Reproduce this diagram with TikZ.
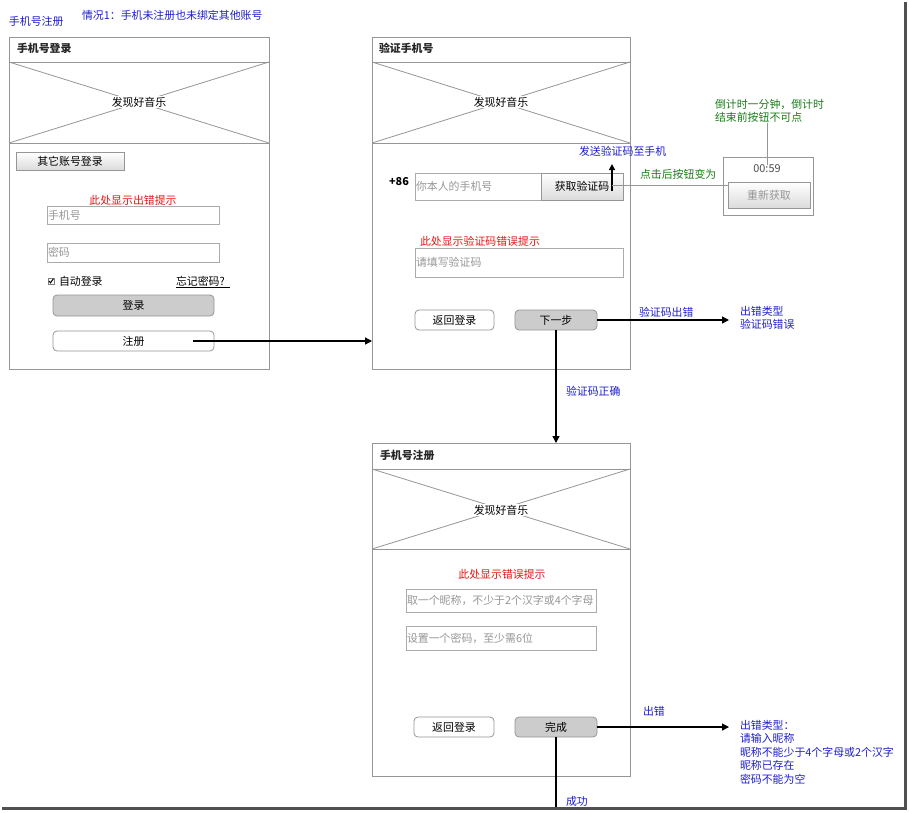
\documentclass[tikz,border=0pt]{standalone}
\usepackage{fontspec}
\setmainfont{Noto Sans CJK SC}
\usetikzlibrary{arrows.meta,calc}
\definecolor{lblue}{RGB}{30,30,205}
\definecolor{lred}{RGB}{235,20,20}
\definecolor{lgreen}{RGB}{25,125,25}
\definecolor{phgray}{RGB}{150,150,150}
\definecolor{bord}{RGB}{150,150,150}
\definecolor{frame}{RGB}{80,80,80}
\newcommand{\fs}{\fontsize{10.9}{13.5}\selectfont}
\tikzset{
  panel/.style={draw=bord, line width=0.8pt, anchor=north west, inner sep=0, outer sep=0},
  field/.style={draw=bord!80, line width=0.7pt, fill=white, anchor=north west, inner sep=0, outer sep=0},
  gbtn/.style={draw=bord, line width=0.7pt, top color=white, bottom color=gray!28, anchor=north west, inner sep=0, outer sep=0, font=\fs},
  wbtn/.style={draw=bord, line width=0.8pt, fill=white, rounded corners=4pt, anchor=north west, inner sep=0, outer sep=0, font=\fs},
  dbtn/.style={draw=bord, line width=0.8pt, fill=gray!40, rounded corners=4pt, anchor=north west, inner sep=0, outer sep=0, font=\fs},
  txt/.style={anchor=west, inner sep=0, outer sep=0, font=\fs},
  ttl/.style={txt, font=\fs\bfseries, text=black!85},
  ph/.style={txt, text=phgray},
  bl/.style={txt, text=lblue},
  rd/.style={txt, text=lred},
  gr/.style={txt, text=lgreen},
  img/.style={fill=white, inner sep=1pt, font=\fs},
  arr/.style={line width=1.3pt, -{Triangle[length=7pt,width=7pt]}},
  cross/.style={draw=bord, line width=0.8pt},
  thin/.style={draw=bord, line width=0.7pt},
}
\begin{document}
\begin{tikzpicture}[x=1pt,y=-1pt]
\useasboundingbox (0,0) rectangle (909,812);
\fill[white] (0,0) rectangle (909,812);
% frame shadow
\draw[frame, line width=3pt] (905,2) -- (905,808) -- (2,808);

% top labels
\node[bl] (lbl1) at (9,21) {手机号注册};
\node[bl] (lbl2) at (82,15) {情况1：手机未注册也未绑定其他账号};

%================ panel 1
\node[panel, minimum width=260pt, minimum height=332pt] (p1) at (9,37) {};
\node[ttl] (p1t) at (17,48) {手机号登录};
\draw[cross] (9,62) -- (269,62) (9,143) -- (269,143);
\draw[cross] (9,62) -- (269,143) (9,143) -- (269,62);
\node[img] (p1i) at (139,102) {发现好音乐};
\node[gbtn, minimum width=108pt, minimum height=18pt] (oth) at (16,152) {其它账号登录};
\node[txt, text=lred, anchor=center] (p1e) at (133,200) {此处显示出错提示};
\node[field, minimum width=172pt, minimum height=18pt] (f1) at (47,206) {};
\node[ph] (f1t) at ([xshift=1pt]f1.west) {手机号};
\node[field, minimum width=172pt, minimum height=19pt] (f2) at (47,243) {};
\node[ph] (f2t) at ([xshift=1pt]f2.west) {密码};
\node[draw=gray, fill=white, minimum size=6pt, inner sep=0, line width=0.5pt] (chk) at (51,281) {};
\draw[line width=1pt] ([shift={(-2,0)}]chk.center) -- ([shift={(-0.5,1.8)}]chk.center) -- ([shift={(2.4,-2.2)}]chk.center);
\node[txt] (auto) at (59,281) {自动登录};
\node[txt] (fgt) at (176,281) {忘记密码?};
\draw[line width=0.6pt] (fgt.west |- 0,287) -- ++(54,0);
\node[dbtn, minimum width=161pt, minimum height=21pt] (login) at (53,295) {登录};
\node[wbtn, minimum width=161pt, minimum height=20pt] (reg) at (53,331) {注册};

%================ panel 2
\node[panel, minimum width=258pt, minimum height=332pt] (p2) at (372,37) {};
\node[ttl] (p2t) at (379,48) {验证手机号};
\draw[cross] (372,62) -- (630,62) (372,143) -- (630,143);
\draw[cross] (372,62) -- (630,143) (372,143) -- (630,62);
\node[img] (p2i) at (501,102) {发现好音乐};
\node[txt, font=\fs\bfseries] (cc) at (389,182) {+86};
\node[field, minimum width=126pt, minimum height=27pt] (ph1) at (415,173) {};
\node[ph] (ph1t) at ([xshift=1pt]ph1.west) {你本人的手机号};
\node[gbtn, minimum width=82pt, minimum height=27pt] (gc) at (541,173) {获取验证码};
\node[rd] (p2e) at (420,241) {此处显示验证码错误提示};
\node[field, minimum width=208pt, minimum height=29pt] (vc) at (415,248) {};
\node[ph] (vct) at ([xshift=1pt]vc.west) {请填写验证码};
\node[wbtn, minimum width=79pt, minimum height=20pt] (back2) at (415,310) {返回登录};
\node[dbtn, minimum width=82pt, minimum height=20pt] (nb) at (515,310) {下一步};

% send code
\node[bl] (send) at (579,151) {发送验证码至手机};
\coordinate (a1) at (612,191);
\coordinate (a2) at (612,164);
\draw[line width=1.3pt, -{Triangle[length=6pt,width=6pt]}] (a1) -- (a2);
% timer box
\node[panel, minimum width=90pt, minimum height=58pt, line width=0.7pt] (tb) at (723,157) {};
\node[txt, anchor=center, text=black!70] (tm) at (767,169) {00:59};
\node[gbtn, minimum width=82pt, minimum height=26pt, text=phgray] (rg) at (728,182) {重新获取};
\coordinate (g1) at (612,185);
\draw[thin] (g1) -- (g1 -| rg.west);
\node[gr] (clk) at (640,174) {点击后按钮变为};
\node[gr, align=left, anchor=north west] (cd) at (715,99) {倒计时一分钟，倒计时\\结束前按钮不可点};
\draw[thin] (cd.south -| tm.north) -- (tm.north);

% next step arrows
\coordinate (e1) at (729,320);
\draw[arr] (nb.east) -- (e1);
\node[bl] (vcerr) at (639,312) {验证码出错};
\node[bl, align=left, anchor=north west] (et1) at (740,306) {出错类型\\验证码错误};
\draw[arr] (nb.south) -- (nb.south |- 0,443);
\node[bl] (vcok) at (566,391) {验证码正确};

% register arrow
\coordinate (s1) at (193,341);
\draw[arr] (s1) -- (s1 -| p2.west);

%================ panel 3
\node[panel, minimum width=258pt, minimum height=333pt] (p3) at (372,443) {};
\node[ttl] (p3t) at (380,455) {手机号注册};
\draw[cross] (372,469) -- (630,469) (372,549) -- (630,549);
\draw[cross] (372,469) -- (630,549) (372,549) -- (630,469);
\node[img] (p3i) at (501,510) {发现好音乐};
\node[txt, text=lred, anchor=center] (p3e) at (502,574) {此处显示错误提示};
\node[field, minimum width=190pt, minimum height=23pt] (nk) at (406,589) {};
\node[ph] (nkt) at ([xshift=1pt]nk.west) {取一个昵称，不少于2个汉字或4个字母};
\node[field, minimum width=190pt, minimum height=24pt] (pw) at (406,626) {};
\node[ph] (pwt) at ([xshift=1pt]pw.west) {设置一个密码，至少需6位};
\node[wbtn, minimum width=80pt, minimum height=20pt] (back3) at (414,717) {返回登录};
\node[dbtn, minimum width=82pt, minimum height=20pt] (done) at (515,717) {完成};

\coordinate (e2) at (729,727);
\draw[arr] (done.east) -- (e2);
\node[bl] (err) at (643,711) {出错};
\node[bl, align=left, anchor=north west] (et2) at (740,720) {出错类型：\\请输入昵称\\昵称不能少于4个字母或2个汉字\\昵称已存在\\密码不能为空};
\coordinate (e3) at (556,807);
\draw[line width=1.3pt] (done.south) -- (done.south |- e3);
\node[bl] (ok) at (566,801) {成功};
\end{tikzpicture}
\end{document}
